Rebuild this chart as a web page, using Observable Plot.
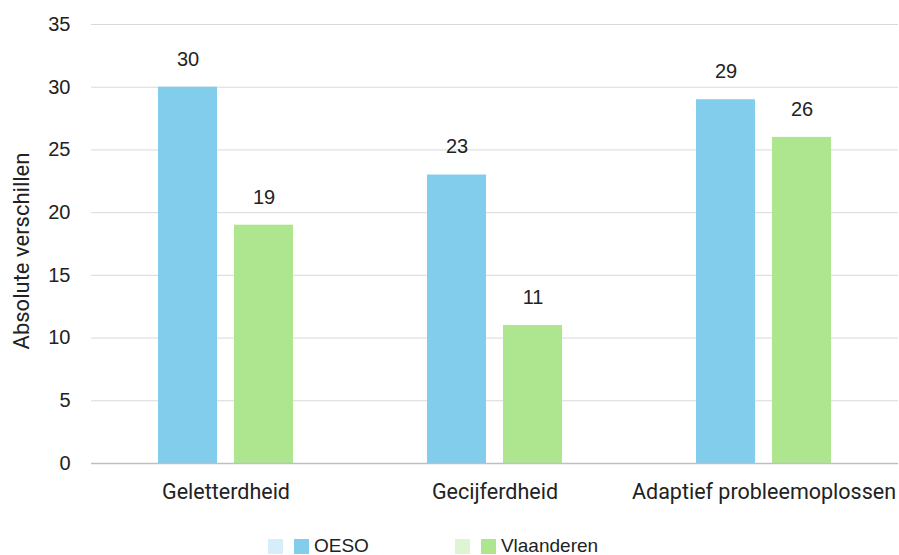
<!DOCTYPE html>
<html>
<head>
<meta charset="utf-8">
<script src="https://cdn.jsdelivr.net/npm/d3@7"></script>
<script src="https://cdn.jsdelivr.net/npm/@observablehq/plot@0.6"></script>
<style>
  body { margin: 0; background: #fff; }
  #chart { width: 899px; }
  #chart svg text { font-family: "Liberation Sans", Arial, sans-serif; fill: #222; }
  #chart svg g[aria-label="y-axis tick label"] text { font-size: 20px; }
  #chart svg g[aria-label="fx-axis tick label"] text { font-family: "Roboto", "Liberation Sans", sans-serif; font-size: 21.5px; }
  #chart svg text.ytitle { font-family: "Roboto", "Liberation Sans", sans-serif; font-size: 22px; }
  .legend { display: flex; justify-content: flex-start; margin-left: 268px; margin-top: 9px; font-family: "Liberation Sans", Arial, sans-serif; font-size: 19px; color: #222; height: 24px; align-items: center; }
  .legend .sw { display: inline-block; width: 15px; height: 15px; }
  .legend .item { display: flex; align-items: center; }
</style>
</head>
<body>
<div id="chart"></div>
<script>
const categories = ["Geletterdheid", "Gecijferdheid", "Adaptief probleemoplossen"];
const seriesNames = ["OESO", "Vlaanderen"];
const oeso = [30, 23, 29];
const vlaanderen = [19, 11, 26];
const seriesColors = ["#83CDEC", "#ADE68F"];
const lightColors = ["#D6EEF9", "#DEF5D3"];
const yTicks = [0, 5, 10, 15, 20, 25, 30, 35];
const yTitle = "Absolute verschillen";

const data = [];
categories.forEach((c, i) => {
  data.push({cat: c, series: seriesNames[0], value: oeso[i]});
  data.push({cat: c, series: seriesNames[1], value: vlaanderen[i]});
});

const chart = Plot.plot({
  width: 899,
  height: 525,
  marginLeft: 90,
  marginRight: 1,
  marginTop: 24,
  marginBottom: 62,
  style: { fontFamily: "'Liberation Sans', Arial, sans-serif", fontSize: "20px", color: "#222" },
  fx: { domain: categories, padding: 0, label: null, axis: "bottom", tickSize: 0, tickPadding: 20 },
  x: { domain: seriesNames, axis: null, paddingInner: 0.22, paddingOuter: 0.857 },
  y: { domain: [0, 35], ticks: yTicks, tickSize: 0, tickPadding: 21, label: null },
  color: { domain: seriesNames, range: seriesColors },
  marks: [
    Plot.gridY(yTicks, { stroke: "#d9d9d9", strokeOpacity: 1, strokeWidth: 1 }),
    Plot.barY(data, { fx: "cat", x: "series", y: "value", fill: "series" }),
    Plot.ruleY([0], { stroke: "#bfbfbf", strokeWidth: 1.5 }),
    Plot.text(data, { fx: "cat", x: "series", y: "value", text: d => String(d.value), dy: -28, fontSize: 20, fill: "#222" }),
    Plot.text([yTitle], { frameAnchor: "left", text: d => d, rotate: -90, textAnchor: "middle", dx: -70, dy: 7, fill: "#222", className: "ytitle", facet: "super" })
  ]
});
chart.querySelectorAll("g.ytitle text, .ytitle text").forEach(t => t.classList.add("ytitle"));
document.getElementById("chart").appendChild(chart);

const legend = document.createElement("div");
legend.className = "legend";
seriesNames.forEach((s, i) => {
  const item = document.createElement("div");
  item.className = "item";
  item.style.marginRight = i === 0 ? "86px" : "0";
  const l = document.createElement("span"); l.className = "sw"; l.style.background = lightColors[i]; l.style.marginRight = "11px";
  const d = document.createElement("span"); d.className = "sw"; d.style.background = seriesColors[i]; d.style.marginRight = "5px";
  const t = document.createElement("span"); t.textContent = s;
  item.append(l, d, t);
  legend.appendChild(item);
});
document.getElementById("chart").appendChild(legend);
</script>
</body>
</html>
